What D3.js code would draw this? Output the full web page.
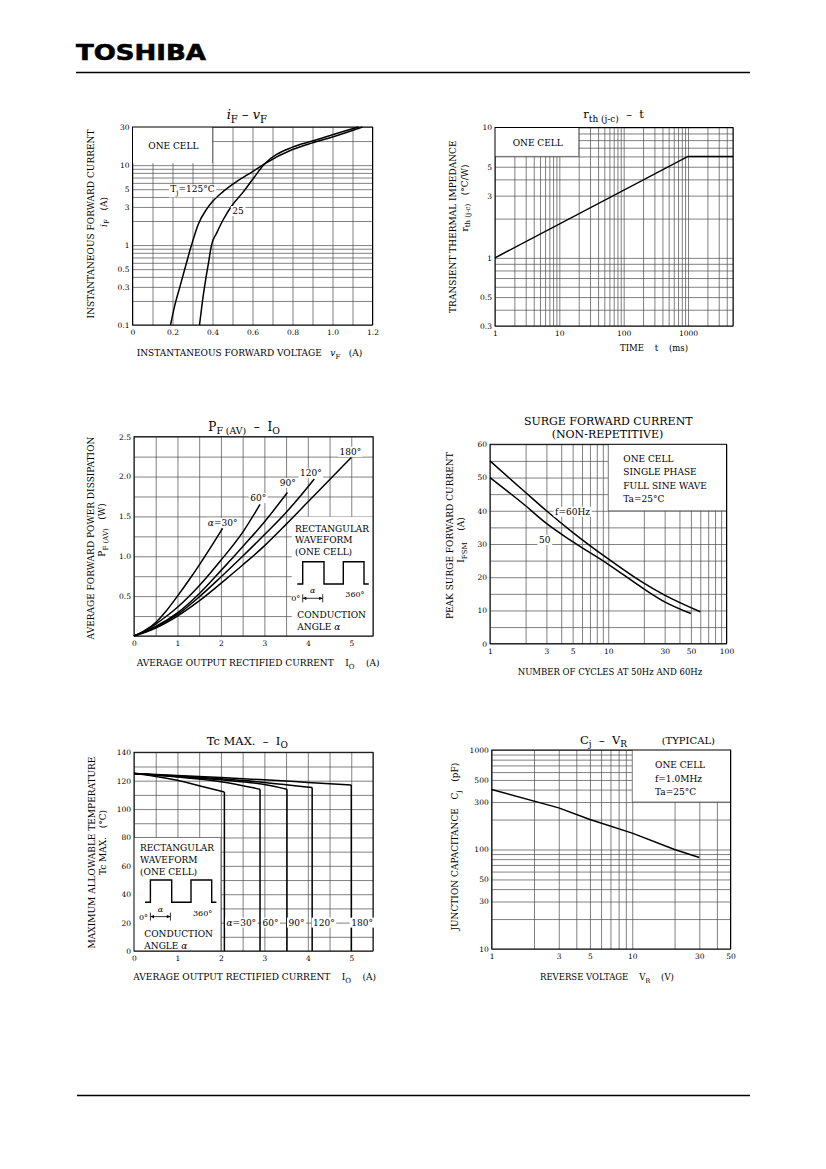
<!DOCTYPE html>
<html>
<head>
<meta charset="utf-8">
<script src="https://cdn.jsdelivr.net/npm/d3@7"></script>
<style>
  body { margin: 0; background: #fff; }
  svg text { font-family: "DejaVu Serif", serif; fill: #000; white-space: pre; }
</style>
</head>
<body>
<svg id="page" width="826" height="1169"></svg>
<script>
// ---------- data ----------

// iF - vF : [vF (V), iF (A)]
var vfTj125 = [[0.19,0.1],[0.21,0.17],[0.24,0.32],[0.27,0.6],[0.295,1.0],[0.33,1.85],[0.37,2.8],[0.40,3.5],[0.45,4.6],[0.52,6.2],[0.60,8.3],[0.66,10.4],[0.80,15.7],[0.90,19],[1.00,22.5],[1.15,30]];
var vfTj25 = [[0.335,0.1],[0.35,0.2],[0.365,0.36],[0.38,0.6],[0.395,1.0],[0.42,1.4],[0.45,2.0],[0.50,3.2],[0.55,4.5],[0.60,6.6],[0.66,10.3],[0.80,16.8],[0.90,20],[1.00,24],[1.13,30]];
var vfTicks = [0, 0.2, 0.4, 0.6, 0.8, 1.0, 1.2];
var vfTickLabels = ["0", "0.2", "0.4", "0.6", "0.8", "1.0", "1.2"];
var ifTicks = [0.1, 0.3, 0.5, 1, 3, 5, 10, 30];
var ifTickLabels = ["0.1", "0.3", "0.5", "1", "3", "5", "10", "30"];

// rth(j-c) - t : [t (ms), rth (degC/W)]
var rthLine = [[1, 1.0], [1000, 6.0], [5000, 6.0]];
var tTicks = [1, 10, 100, 1000];
var tTickLabels = ["1", "10", "100", "1000"];
var rthTicks = [0.3, 0.5, 1, 3, 5, 10];
var rthTickLabels = ["0.3", "0.5", "1", "3", "5", "10"];

// PF(AV) - IO : [IO (A), PF (W)]
var pf30 = [[0,0],[0.25,0.07],[0.5,0.17],[0.75,0.32],[1,0.5],[1.25,0.69],[1.5,0.89],[1.75,1.1],[2.04,1.35]];
var pf60 = [[0,0],[0.25,0.06],[0.5,0.15],[1,0.36],[1.5,0.63],[2,0.95],[2.5,1.3],[2.9,1.65]];
var pf90 = [[0,0],[0.5,0.12],[1,0.29],[1.5,0.53],[2,0.82],[2.5,1.12],[3,1.43],[3.53,1.8]];
var pf120 = [[0,0],[0.5,0.11],[1,0.27],[1.5,0.49],[2,0.74],[2.5,1.0],[3,1.27],[3.5,1.55],[3.82,1.75],[4.15,1.97]];
var pf180 = [[0,0],[0.5,0.1],[1,0.25],[1.5,0.44],[2,0.66],[2.5,0.89],[3,1.13],[3.5,1.4],[4,1.68],[4.5,1.96],[5,2.24]];
var ioTicks = [0, 1, 2, 3, 4, 5];
var ioTickLabels = ["0", "1", "2", "3", "4", "5"];
var pfTicks = [0.5, 1.0, 1.5, 2.0, 2.5];
var pfTickLabels = ["0.5", "1.0", "1.5", "2.0", "2.5"];

// surge forward current : [cycles, IFSM (A)]
var surge60 = [[1,55],[2,45.5],[3,40],[5,33.5],[10,25.5],[20,18.2],[30,14.6],[60,9.6]];
var surge50 = [[1,50],[2,41.5],[3,36.2],[5,30.7],[10,23.9],[20,16.5],[30,12.6],[50,9.1]];
var cycTicks = [1, 3, 5, 10, 30, 50, 100];
var cycTickLabels = ["1", "3", "5", "10", "30", "50", "100"];
var ifsmTicks = [0, 10, 20, 30, 40, 50, 60];
var ifsmTickLabels = ["0", "10", "20", "30", "40", "50", "60"];

// Tc max - IO : [IO (A), Tc (degC)], each curve drops to 0 at its last IO
var tc30 = [[0,125],[0.5,123],[1,120.3],[1.5,116.5],[2.08,112]];
var tc60 = [[0,125],[1,122.6],[2,119.3],[2.9,114]];
var tc90 = [[0,125],[1,123],[2,120.6],[3,117.3],[3.52,114]];
var tc120 = [[0,125],[1,123.3],[2,121.3],[3,118.8],[4.1,115.2]];
var tc180 = [[0,125],[1,123.7],[2,122.2],[3,120.6],[4,118.8],[5,117]];
var tcTicks = [0, 20, 40, 60, 80, 100, 120, 140];
var tcTickLabels = ["0", "20", "40", "60", "80", "100", "120", "140"];

// Cj - VR : [VR (V), Cj (pF)]
var cjLine = [[1,400],[3,262],[5,200],[10,146],[20,100],[30,83]];
var vrTicks = [1, 3, 5, 10, 30, 50];
var vrTickLabels = ["1", "3", "5", "10", "30", "50"];
var cjTicks = [10, 30, 50, 100, 300, 500, 1000];
var cjTickLabels = ["10", "30", "50", "100", "300", "500", "1000"];

// ---------- helpers ----------
var svg = d3.select("#page");
var GRID = "#4a4a4a";

function logGrid(lo, hi) {
  var out = [];
  for (var p = -2; p <= 4; p++) {
    for (var m = 1; m < 10; m++) {
      var v = +(m * Math.pow(10, p)).toPrecision(6);
      if (v >= lo - 1e-9 && v <= hi + 1e-9) out.push(v);
    }
  }
  return out;
}
function linGrid(lo, hi, step) {
  return d3.range(lo, hi + step / 2, step).map(function(v) { return +v.toFixed(4); });
}

function panel(x, y, xGrid, yGrid) {
  var g = svg.append("g");
  var x0 = x.range()[0], x1 = x.range()[1], yb = y.range()[0], yt = y.range()[1];
  g.append("g")
    .attr("transform", "translate(0," + yb + ")")
    .call(d3.axisBottom(x).tickValues(xGrid).tickSize(yt - yb).tickFormat(""))
    .call(function(s) { s.select(".domain").remove(); })
    .selectAll("line").attr("stroke", GRID).attr("stroke-width", 0.7);
  g.append("g")
    .attr("transform", "translate(" + x0 + ",0)")
    .call(d3.axisLeft(y).tickValues(yGrid).tickSize(x0 - x1).tickFormat(""))
    .call(function(s) { s.select(".domain").remove(); })
    .selectAll("line").attr("stroke", GRID).attr("stroke-width", 0.7);
  return g;
}

// white legend box that hides the grid, edges drawn where the sheet shows them
function box(g, x, y, xr, yr, edges) {
  var l = x(xr[0]), r = x(xr[1]), t = y(yr[1]), b = y(yr[0]);
  g.append("rect").attr("x", l).attr("y", t).attr("width", r - l).attr("height", b - t).attr("fill", "#fff");
  var e = {l: [l, t, l, b], r: [r, t, r, b], t: [l, t, r, t], b: [l, b, r, b]};
  edges.split("").forEach(function(k) {
    g.append("line")
      .attr("x1", e[k][0]).attr("y1", e[k][1]).attr("x2", e[k][2]).attr("y2", e[k][3])
      .attr("stroke", GRID).attr("stroke-width", 0.7);
  });
}

function frame(g, x, y) {
  var x0 = x.range()[0], x1 = x.range()[1], yb = y.range()[0], yt = y.range()[1];
  g.append("rect").attr("x", x0).attr("y", yt).attr("width", x1 - x0).attr("height", yb - yt)
    .attr("fill", "none").attr("stroke", "#000").attr("stroke-width", 1);
}

function tickLabels(g, x, y, xv, xl, yv, yl) {
  var yb = y.range()[0], x0 = x.range()[0];
  g.append("g")
    .attr("transform", "translate(0," + yb + ")")
    .call(d3.axisBottom(x).tickValues(xv).tickSize(0).tickPadding(5).tickFormat(function(d, i) { return xl[i]; }))
    .call(function(s) { s.select(".domain").remove(); })
    .attr("font-family", null).attr("font-size", 7.5);
  g.append("g")
    .attr("transform", "translate(" + x0 + ",0)")
    .call(d3.axisLeft(y).tickValues(yv).tickSize(0).tickPadding(3).tickFormat(function(d, i) { return yl[i]; }))
    .call(function(s) { s.select(".domain").remove(); })
    .attr("font-family", null).attr("font-size", 7.5);
}

function curve(g, x, y, data) {
  g.append("path").datum(data)
    .attr("fill", "none").attr("stroke", "#000").attr("stroke-width", 1.5)
    .attr("d", d3.line().x(function(d) { return x(d[0]); }).y(function(d) { return y(d[1]); }).curve(d3.curveMonotoneX));
}

// text built from [string, kind] parts, kind: i = italic, s = subscript
function parts(t, list, size) {
  var shift = 0;
  list.forEach(function(p) {
    var kind = p[1] || "";
    var s = t.append("tspan").text(p[0]);
    var want = kind.indexOf("s") >= 0 ? size * 0.32 : 0;
    if (want !== shift) { s.attr("dy", want - shift); shift = want; }
    if (kind.indexOf("s") >= 0) s.attr("font-size", size * 0.78);
    if (kind.indexOf("i") >= 0) s.attr("font-style", "italic");
  });
  return t;
}

function label(g, px, py, list, opts) {
  opts = opts || {};
  var size = opts.size || 9;
  var t = g.append("text").attr("x", px).attr("y", py)
    .attr("text-anchor", opts.anchor || "start").attr("font-size", size);
  if (opts.rotate) t.attr("transform", "rotate(-90," + px + "," + py + ")");
  parts(t, list, size);
  if (opts.bg) {
    var bb = t.node().getBBox();
    g.insert("rect", function() { return t.node(); })
      .attr("x", bb.x - 1.5).attr("y", bb.y).attr("width", bb.width + 3).attr("height", bb.height)
      .attr("fill", "#fff");
  }
  return t;
}

// rectangular waveform pictogram
function waveform(g, ox, oy) {
  var w = d3.line();
  g.append("path").attr("fill", "none").attr("stroke", "#000").attr("stroke-width", 1.4)
    .attr("d", w([[ox, oy], [ox + 5.4, oy], [ox + 5.4, oy - 22.3], [ox + 26.7, oy - 22.3], [ox + 26.7, oy],
                  [ox + 46, oy], [ox + 46, oy - 22.3], [ox + 66.7, oy - 22.3], [ox + 66.7, oy], [ox + 71.4, oy]]));
  var ay = oy + 14.3;
  g.append("line").attr("x1", ox + 5.4).attr("x2", ox + 25.4).attr("y1", ay).attr("y2", ay).attr("stroke", "#000").attr("stroke-width", 0.8);
  g.append("line").attr("x1", ox + 5.4).attr("x2", ox + 5.4).attr("y1", ay - 4).attr("y2", ay + 4).attr("stroke", "#000").attr("stroke-width", 0.8);
  g.append("line").attr("x1", ox + 25.4).attr("x2", ox + 25.4).attr("y1", ay - 4).attr("y2", ay + 4).attr("stroke", "#000").attr("stroke-width", 0.8);
  g.append("path").attr("d", d3.line()([[ox + 5.4, ay], [ox + 9, ay - 1.6], [ox + 9, ay + 1.6]])).attr("fill", "#000");
  g.append("path").attr("d", d3.line()([[ox + 25.4, ay], [ox + 21.8, ay - 1.6], [ox + 21.8, ay + 1.6]])).attr("fill", "#000");
  label(g, ox + 3, ay + 3, [["0°"]], {anchor: "end", size: 8});
  label(g, ox + 15.5, ay - 5, [["α", "i"]], {anchor: "middle", size: 8});
  label(g, ox + 48, ay - 1, [["360°"]], {size: 8});
}

// ---------- page header / footer ----------
svg.append("text").attr("x", 76).attr("y", 59.5)
  .attr("font-weight", "bold").attr("font-size", 22)
  .attr("textLength", 130).attr("lengthAdjust", "spacingAndGlyphs")
  .style("font-family", "'DejaVu Sans', sans-serif").style("stroke", "#000").style("stroke-width", 0.6)
  .text("TOSHIBA");
svg.append("line").attr("x1", 76).attr("x2", 750).attr("y1", 72.5).attr("y2", 72.5).attr("stroke", "#000").attr("stroke-width", 1.3);
svg.append("line").attr("x1", 77).attr("x2", 750).attr("y1", 1095.5).attr("y2", 1095.5).attr("stroke", "#000").attr("stroke-width", 1.6);

// ---------- 1: iF - vF ----------
var x1 = d3.scaleLinear().domain([0, 1.2]).range([132.5, 372.5]);
var y1 = d3.scaleLog().domain([0.1, 30]).range([325, 127]);
var g1 = panel(x1, y1, linGrid(0, 1.2, 0.1), logGrid(0.1, 30));
box(g1, x1, y1, [0, 0.4], [10.6, 30], "r");
curve(g1, x1, y1, vfTj125);
curve(g1, x1, y1, vfTj25);
frame(g1, x1, y1);
tickLabels(g1, x1, y1, vfTicks, vfTickLabels, ifTicks, ifTickLabels);
label(g1, 148.3, 149, [["ONE CELL"]]);
label(g1, x1(0.30), y1(5) + 3.3, [["T"], ["j", "s"], ["=125°C"]], {anchor: "middle", bg: true});
label(g1, x1(0.5275), 214, [["25"]], {anchor: "middle", bg: true});
label(g1, 226.7, 118.5, [["i", "i"], ["F", "s"], [" – "], ["v", "i"], ["F", "s"]], {size: 13});
label(g1, 136.7, 356, [["INSTANTANEOUS FORWARD VOLTAGE   "], ["v", "i"], ["F", "s"], ["   (A)"]], {size: 9});
label(g1, 93.5, 224, [["INSTANTANEOUS FORWARD CURRENT"]], {anchor: "middle", rotate: true});
label(g1, 106.5, 212, [["i", "i"], ["F", "s"], ["   (A)"]], {anchor: "middle", rotate: true});

// ---------- 2: rth(j-c) - t ----------
var x2 = d3.scaleLog().domain([1, 5000]).range([495, 733]);
var y2 = d3.scaleLog().domain([0.3, 10]).range([326, 127.5]);
var g2 = panel(x2, y2, logGrid(1, 5000), logGrid(0.3, 10));
box(g2, x2, y2, [1, 20], [6, 10], "rb");
g2.append("path").datum(rthLine).attr("fill", "none").attr("stroke", "#000").attr("stroke-width", 1.5)
  .attr("d", d3.line().x(function(d) { return x2(d[0]); }).y(function(d) { return y2(d[1]); }));
frame(g2, x2, y2);
tickLabels(g2, x2, y2, tTicks, tTickLabels, rthTicks, rthTickLabels);
label(g2, 512.7, 146, [["ONE CELL"]]);
label(g2, 583.3, 118, [["r"], ["th (j-c)", "s"], ["  –  t"]], {size: 11.5});
label(g2, 620, 351, [["TIME    t    (ms)"]], {size: 8.5});
label(g2, 456.5, 226.7, [["TRANSIENT THERMAL IMPEDANCE"]], {anchor: "middle", rotate: true});
label(g2, 467.5, 198, [["r"], ["th (j-c)", "s"], ["   (°C/W)"]], {anchor: "middle", rotate: true});

// ---------- 3: PF(AV) - IO ----------
var x3 = d3.scaleLinear().domain([0, 5.5]).range([134, 373]);
var y3 = d3.scaleLinear().domain([0, 2.5]).range([636, 436.7]);
var g3 = panel(x3, y3, linGrid(0, 5.5, 0.5), linGrid(0, 2.5, 0.25));
box(g3, x3, y3, [3.63, 5.5], [0, 1.495], "");
[pf30, pf60, pf90, pf120, pf180].forEach(function(d) { curve(g3, x3, y3, d); });
frame(g3, x3, y3);
tickLabels(g3, x3, y3, ioTicks, ioTickLabels, pfTicks, pfTickLabels);
label(g3, x3(2.04), y3(1.42) + 3, [["α", "i"], ["=30°"]], {anchor: "middle", bg: true});
label(g3, x3(2.86), y3(1.73) + 3, [["60°"]], {anchor: "middle", bg: true});
label(g3, x3(3.54), y3(1.92) + 3, [["90°"]], {anchor: "middle", bg: true});
label(g3, x3(4.07), y3(2.04) + 3, [["120°"]], {anchor: "middle", bg: true});
label(g3, x3(4.98), y3(2.31) + 3, [["180°"]], {anchor: "middle", bg: true});
label(g3, 295, 531.5, [["RECTANGULAR"]]);
label(g3, 295, 543, [["WAVEFORM"]]);
label(g3, 295, 554.5, [["(ONE CELL)"]]);
waveform(g3, 297.3, 584);
label(g3, 297.3, 617.5, [["CONDUCTION"]]);
label(g3, 297.3, 629.5, [["ANGLE "], ["α", "i"]]);
label(g3, 208.3, 430.5, [["P"], ["F (AV)", "s"], ["  –  I"], ["O", "s"]], {size: 12});
label(g3, 136.7, 666, [["AVERAGE OUTPUT RECTIFIED CURRENT    I"], ["O", "s"], ["    (A)"]], {size: 9});
label(g3, 93.5, 538, [["AVERAGE FORWARD POWER DISSIPATION"]], {anchor: "middle", rotate: true});
label(g3, 105, 530, [["P"], ["F (AV)", "s"], ["   (W)"]], {anchor: "middle", rotate: true});

// ---------- 4: surge forward current ----------
var x4 = d3.scaleLog().domain([1, 100]).range([490, 726.5]);
var y4 = d3.scaleLinear().domain([0, 60]).range([643.7, 444.3]);
var g4 = panel(x4, y4, logGrid(1, 100), linGrid(0, 60, 5));
box(g4, x4, y4, [10, 100], [40, 60], "lb");
curve(g4, x4, y4, surge60);
curve(g4, x4, y4, surge50);
frame(g4, x4, y4);
tickLabels(g4, x4, y4, cycTicks, cycTickLabels, ifsmTicks, ifsmTickLabels);
label(g4, x4(4.99), y4(39.7) + 3, [["f=60Hz"]], {anchor: "middle", bg: true});
label(g4, x4(2.9), y4(31.2) + 3, [["50"]], {anchor: "middle", bg: true});
label(g4, 623.3, 461.5, [["ONE CELL"]]);
label(g4, 623.3, 475, [["SINGLE PHASE"]]);
label(g4, 623.3, 488.5, [["FULL SINE WAVE"]]);
label(g4, 623.3, 502, [["Ta=25°C"]]);
label(g4, 608.3, 424.5, [["SURGE FORWARD CURRENT"]], {anchor: "middle", size: 11});
label(g4, 607.5, 437.8, [["(NON-REPETITIVE)"]], {anchor: "middle", size: 11});
label(g4, 610, 675, [["NUMBER OF CYCLES AT 50Hz AND 60Hz"]], {anchor: "middle", size: 8.5});
label(g4, 453.5, 535.7, [["PEAK SURGE FORWARD CURRENT"]], {anchor: "middle", rotate: true});
label(g4, 464, 540, [["I"], ["FSM", "s"], ["    (A)"]], {anchor: "middle", rotate: true});

// ---------- 5: Tc max - IO ----------
var x5 = d3.scaleLinear().domain([0, 5.5]).range([134, 373]);
var y5 = d3.scaleLinear().domain([0, 140]).range([951, 752.3]);
var g5 = panel(x5, y5, linGrid(0, 5.5, 0.5), linGrid(0, 140, 10));
box(g5, x5, y5, [0, 2.0], [0, 80], "tr");
[tc30, tc60, tc90, tc120, tc180].forEach(function(d) {
  curve(g5, x5, y5, d);
  var last = d[d.length - 1];
  g5.append("path").datum([last, [last[0], 0]])
    .attr("fill", "none").attr("stroke", "#000").attr("stroke-width", 1.5)
    .attr("d", d3.line().x(function(p) { return x5(p[0]); }).y(function(p) { return y5(p[1]); }));
});
frame(g5, x5, y5);
tickLabels(g5, x5, y5, ioTicks, ioTickLabels, tcTicks, tcTickLabels);
label(g5, x5(2.47), y5(20) + 3, [["α", "i"], ["=30°"]], {anchor: "middle", bg: true});
label(g5, x5(3.14), y5(20) + 3, [["60°"]], {anchor: "middle", bg: true});
label(g5, x5(3.74), y5(20) + 3, [["90°"]], {anchor: "middle", bg: true});
label(g5, x5(4.37), y5(20) + 3, [["120°"]], {anchor: "middle", bg: true});
label(g5, x5(5.25), y5(20) + 3, [["180°"]], {anchor: "middle", bg: true});
label(g5, 140, 851, [["RECTANGULAR"]]);
label(g5, 140, 863, [["WAVEFORM"]]);
label(g5, 140, 875, [["(ONE CELL)"]]);
waveform(g5, 145, 902.3);
label(g5, 144.3, 936.5, [["CONDUCTION"]]);
label(g5, 144.3, 948.5, [["ANGLE "], ["α", "i"]]);
label(g5, 206.7, 744.5, [["Tc MAX.  –  I"], ["O", "s"]], {size: 11.5});
label(g5, 133.3, 980, [["AVERAGE OUTPUT RECTIFIED CURRENT    I"], ["O", "s"], ["    (A)"]], {size: 9});
label(g5, 95, 852.5, [["MAXIMUM ALLOWABLE TEMPERATURE"]], {anchor: "middle", rotate: true});
label(g5, 105.5, 842.5, [["Tc MAX.   (°C)"]], {anchor: "middle", rotate: true});

// ---------- 6: Cj - VR ----------
var x6 = d3.scaleLog().domain([1, 50]).range([491.7, 730.5]);
var y6 = d3.scaleLog().domain([10, 1000]).range([949, 750]);
var g6 = panel(x6, y6, logGrid(1, 50), logGrid(10, 1000));
box(g6, x6, y6, [10, 50], [300, 1000], "lb");
g6.append("path").datum(cjLine).attr("fill", "none").attr("stroke", "#000").attr("stroke-width", 1.5)
  .attr("d", d3.line().x(function(d) { return x6(d[0]); }).y(function(d) { return y6(d[1]); }));
frame(g6, x6, y6);
tickLabels(g6, x6, y6, vrTicks, vrTickLabels, cjTicks, cjTickLabels);
label(g6, 655, 768, [["ONE CELL"]]);
label(g6, 655, 781.5, [["f=1.0MHz"]]);
label(g6, 655, 795, [["Ta=25°C"]]);
label(g6, 580, 743.5, [["C"], ["j", "s"], ["  –  V"], ["R", "s"]], {size: 11.5});
label(g6, 661.7, 743.5, [["(TYPICAL)"]], {size: 10});
label(g6, 540, 980, [["REVERSE VOLTAGE    V"], ["R", "s"], ["    (V)"]], {size: 8.5});
label(g6, 458.5, 846.7, [["JUNCTION CAPACITANCE   C"], ["j", "s"], ["   (pF)"]], {anchor: "middle", rotate: true});
</script>
</body>
</html>
